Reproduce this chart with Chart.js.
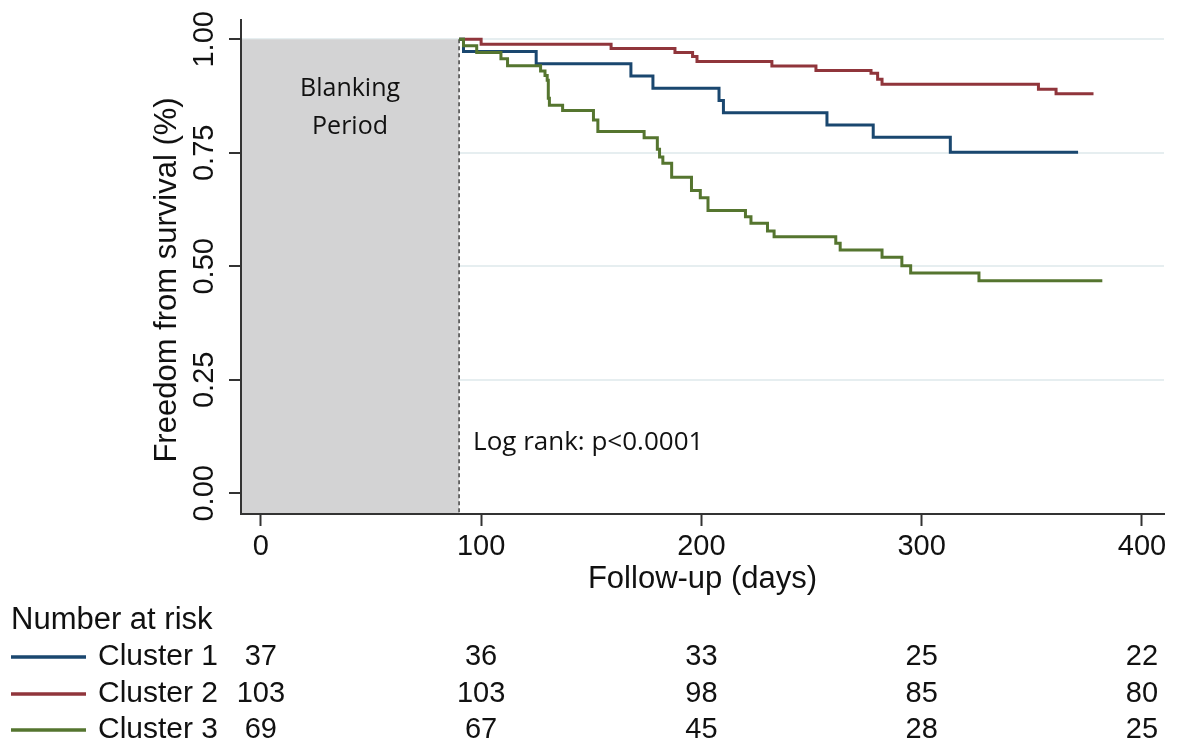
<!DOCTYPE html>
<html>
<head>
<meta charset="utf-8">
<script src="https://cdn.jsdelivr.net/npm/chart.js@4.4.1/dist/chart.umd.min.js"></script>
<style>
  html, body { margin: 0; padding: 0; background: #fff; }
  #km { display: block; }
</style>
</head>
<body>
<canvas id="km" width="1179" height="747"></canvas>
<script>
// Kaplan-Meier estimates: follow-up day and survival
const times1 = [90, 92, 125, 168, 178, 208, 210, 257, 278, 313, 371];
const surv1  = [1.0, 0.973, 0.946, 0.919, 0.892, 0.865, 0.838, 0.811, 0.784, 0.751, 0.751];

const times2 = [90, 100, 159, 188, 196, 198, 232, 252, 277, 280, 282, 353, 361, 378];
const surv2  = [1.0, 0.989, 0.980, 0.971, 0.962, 0.951, 0.941, 0.931, 0.925, 0.912, 0.901, 0.890, 0.880, 0.880];

const times3 = [90, 92, 98, 109, 112, 127, 129, 130, 130.5, 131, 137, 151, 153, 174, 180, 181, 182.5, 186.5,
                195.5, 199.5, 203, 220, 222.5, 230, 233, 261, 263, 282, 291, 295, 326, 382];
const surv3  = [1.0, 0.986, 0.971, 0.957, 0.942, 0.930, 0.920, 0.910, 0.870, 0.855, 0.843, 0.822, 0.797, 0.783,
                0.758, 0.741, 0.727, 0.696, 0.667, 0.651, 0.623, 0.609, 0.595, 0.578, 0.565, 0.551, 0.536, 0.520,
                0.501, 0.485, 0.468, 0.468];

const seriesNames = ['Cluster 1', 'Cluster 2', 'Cluster 3'];
const seriesColors = ['#1a476f', '#90353b', '#55752f'];

// number at risk table
const riskTimes = [0, 100, 200, 300, 400];
const risk1 = [37, 36, 33, 25, 22];
const risk2 = [103, 103, 98, 85, 80];
const risk3 = [69, 67, 45, 28, 25];

const xTickValues = [0, 100, 200, 300, 400];
const yTickValues = [0, 0.25, 0.5, 0.75, 1];
const yTickLabels = ['0.00', '0.25', '0.50', '0.75', '1.00'];

const blankEnd = 90;   // end of blanking period (days)

const sans = '"Liberation Sans", Arial, Helvetica, sans-serif';
const pts = (t, s) => t.map((v, i) => ({ x: v, y: s[i] }));

const extras = {
  id: 'extras',
  beforeDatasetsDraw(chart) {
    const { ctx, chartArea } = chart;
    const x = chart.scales.x, y = chart.scales.y;
    const xb = x.getPixelForValue(blankEnd);
    const yTop = y.getPixelForValue(1);
    ctx.save();
    ctx.fillStyle = '#d3d3d4';
    ctx.fillRect(chartArea.left + 1, yTop, xb - chartArea.left - 1, chartArea.bottom - 1 - yTop);
    // dashed line at the end of blanking
    ctx.strokeStyle = '#444';
    ctx.lineWidth = 1.5;
    ctx.setLineDash([4, 3]);
    ctx.beginPath();
    ctx.moveTo(xb, yTop);
    ctx.lineTo(xb, chartArea.bottom);
    ctx.stroke();
    ctx.setLineDash([]);
    ctx.fillStyle = '#111';
    ctx.font = '25px "Open Sans", sans-serif';
    ctx.textAlign = 'center';
    ctx.textBaseline = 'alphabetic';
    const mid = (chartArea.left + xb) / 2;
    ctx.fillText('Blanking', mid, 96);
    ctx.fillText('Period', mid, 134);
    ctx.font = '26px "Open Sans", sans-serif';
    ctx.textAlign = 'left';
    ctx.fillText('Log rank: p<0.0001', xb + 14, 450);
    ctx.restore();
  },
  afterDraw(chart) {
    const { ctx } = chart;
    const x = chart.scales.x, y = chart.scales.y;
    ctx.save();
    ctx.fillStyle = '#111';
    ctx.textAlign = 'center';
    ctx.textBaseline = 'middle';
    // vertical y tick labels and axis title
    ctx.font = '29px ' + sans;
    yTickValues.forEach((v, i) => {
      ctx.save();
      ctx.translate(205, y.getPixelForValue(v));
      ctx.rotate(-Math.PI / 2);
      ctx.fillText(yTickLabels[i], 0, 0);
      ctx.restore();
    });
    ctx.save();
    ctx.font = '31px ' + sans;
    ctx.translate(167, 280);
    ctx.rotate(-Math.PI / 2);
    ctx.fillText('Freedom from survival (%)', 0, 0);
    ctx.restore();

    // number at risk
    ctx.font = '31px ' + sans;
    ctx.textAlign = 'left';
    ctx.fillText('Number at risk', 11, 620);
    const rows = [risk1, risk2, risk3];
    const rowY = [657, 694, 730];
    rows.forEach((r, k) => {
      ctx.strokeStyle = seriesColors[k];
      ctx.lineWidth = 3.5;
      ctx.beginPath();
      ctx.moveTo(11, rowY[k]);
      ctx.lineTo(86, rowY[k]);
      ctx.stroke();
      ctx.font = '30px ' + sans;
      ctx.textAlign = 'left';
      ctx.fillText(seriesNames[k], 98, rowY[k]);
      ctx.font = '29px ' + sans;
      ctx.textAlign = 'center';
      r.forEach((n, j) => ctx.fillText(String(n), x.getPixelForValue(riskTimes[j]), rowY[k]));
    });
    ctx.restore();
  }
};

new Chart(document.getElementById('km'), {
  type: 'line',
  data: {
    datasets: [
      { label: seriesNames[0], data: pts(times1, surv1), borderColor: seriesColors[0], order: 2 },
      { label: seriesNames[1], data: pts(times2, surv2), borderColor: seriesColors[1], order: 3 },
      { label: seriesNames[2], data: pts(times3, surv3), borderColor: seriesColors[2], order: 1 }
    ]
  },
  options: {
    responsive: false,
    animation: false,
    devicePixelRatio: 1,
    layout: { padding: { left: 0, right: 15, top: 20, bottom: 143 } },
    elements: {
      point: { radius: 0 },
      line: { borderWidth: 3, stepped: 'before', fill: false, borderJoinStyle: 'miter', borderCapStyle: 'butt' }
    },
    plugins: {
      legend: { display: false },
      tooltip: { enabled: false }
    },
    scales: {
      x: {
        type: 'linear',
        min: -9,
        max: 410,
        afterBuildTicks: s => { s.ticks = xTickValues.map(v => ({ value: v })); },
        afterFit: s => { s.height = 90; },
        grid: { drawOnChartArea: false, drawTicks: true, tickLength: 12, tickColor: '#333', tickWidth: 2 },
        border: { color: '#333', width: 2 },
        ticks: { color: '#111', font: { family: sans, size: 29 }, padding: 4, maxRotation: 0, autoSkip: false },
        title: { display: true, text: 'Follow-up (days)', color: '#111', font: { family: sans, size: 31 }, padding: { top: 0, bottom: 6 } }
      },
      y: {
        min: -0.0456,
        max: 1.0425,
        afterBuildTicks: s => { s.ticks = yTickValues.map(v => ({ value: v })); },
        afterFit: s => { s.width = 241; },
        grid: {
          color: c => (c.tick && c.tick.value === 0) ? 'rgba(0,0,0,0)' : '#e6eef0',
          lineWidth: 2, tickLength: 12, tickColor: '#333', tickWidth: 2
        },
        border: { color: '#333', width: 2 },
        ticks: { display: false },
        title: { display: false }
      }
    }
  },
  plugins: [extras]
});
</script>
</body>
</html>
